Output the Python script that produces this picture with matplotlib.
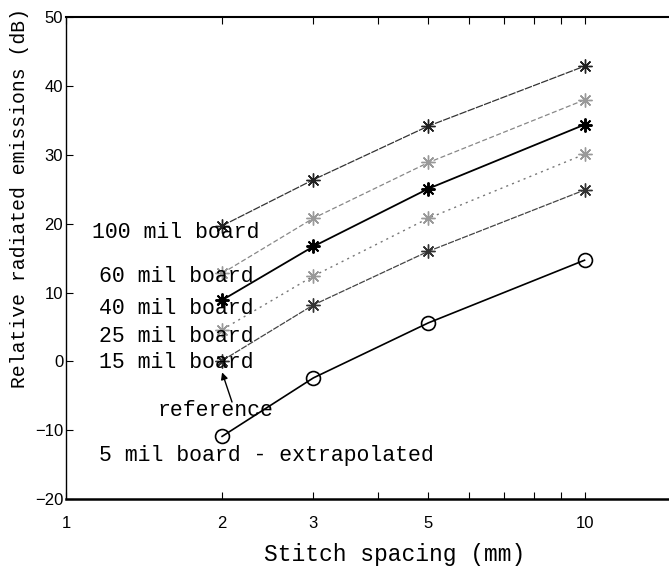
import matplotlib
matplotlib.use("Agg")
import matplotlib.pyplot as plt
from matplotlib.ticker import FixedLocator, NullFormatter, FixedFormatter

# Data
spacing = [2, 3, 5, 10]
mil100 = [19.7, 26.4, 34.2, 42.9]
mil60 = [12.8, 20.8, 28.9, 38.0]
mil40 = [8.9, 16.7, 25.1, 34.4]
mil25 = [4.6, 12.4, 20.8, 30.1]
mil15 = [0.1, 8.2, 16.0, 24.9]
mil5 = [-10.9, -2.4, 5.6, 14.7]

x_ticks = [1, 2, 3, 5, 10]
x_ticklabels = ["1", "2", "3", "5", "10"]
y_ticks = [-20, -10, 0, 10, 20, 30, 40, 50]

W, H = 669, 570
fig = plt.figure(figsize=(W / 100, H / 100), dpi=100)
left = 66 / W
bottom = (H - 499) / H
top = (H - 17.3) / H
ax = fig.add_axes([left, bottom, 674.6 / W, top - bottom])

mono = ["Liberation Mono", "DejaVu Sans Mono"]
tickfont = ["Liberation Sans Narrow", "Liberation Sans", "DejaVu Sans"]
ast = (8, 2, 0)

ax.plot(spacing, mil100, color="#333333", lw=0.9, ls=(0, (6, 1)), marker=ast,
        ms=10, mec="#222222", mew=1.0)
ax.plot(spacing, mil60, color="#888888", lw=0.9, ls=(0, (4, 2)), marker=ast,
        ms=10, mec="#999999", mew=1.0)
ax.plot(spacing, mil40, color="#000000", lw=1.3, ls="-", marker=ast,
        ms=10, mec="#000000", mew=1.4)
ax.plot(spacing, mil25, color="#777777", lw=1.0, ls=(0, (1.5, 3)), marker=ast,
        ms=10, mec="#999999", mew=1.0)
ax.plot(spacing, mil15, color="#444444", lw=0.9, ls=(0, (5, 1)), marker=ast,
        ms=10, mec="#333333", mew=1.0)
ax.plot(spacing, mil5, color="#000000", lw=1.2, ls="-", marker="o",
        ms=10, mfc="none", mec="#000000", mew=1.2)

ax.set_xscale("log")
ax.set_xlim(1, 20)
ax.set_ylim(-20, 50)
ax.xaxis.set_major_locator(FixedLocator(x_ticks))
ax.xaxis.set_major_formatter(FixedFormatter(x_ticklabels))
ax.xaxis.set_minor_locator(FixedLocator([4, 6, 7, 8, 9]))
ax.xaxis.set_minor_formatter(NullFormatter())
ax.set_yticks(y_ticks)
ax.tick_params(axis="both", which="both", direction="in", top=True,
               right=False, labelsize=12, length=5, width=0.8)
ax.tick_params(axis="x", which="major", pad=12)
ax.tick_params(axis="y", which="major", pad=2)
for lab in ax.get_xticklabels() + ax.get_yticklabels():
    lab.set_family(tickfont)

ax.spines["right"].set_visible(False)
ax.spines["bottom"].set_linewidth(1.8)
ax.spines["top"].set_linewidth(1.5)
ax.spines["left"].set_linewidth(1.0)

fs = 15.5
labels = [
    ("100 mil board", 92, 233),
    ("60 mil board", 99, 277),
    ("40 mil board", 99, 308),
    ("25 mil board", 99, 337),
    ("15 mil board", 99, 363),
    ("5 mil board - extrapolated", 99, 455),
]
for txt, px, py in labels:
    fig.text(px / W, 1 - py / H, txt, family=mono, fontsize=fs,
             ha="left", va="center")

fig.text(157 / W, 1 - 411 / H, "reference", family=mono, fontsize=fs,
         ha="left", va="center")
ax.annotate("", xy=(2, 0 - 1.6), xycoords="data",
            xytext=(232 / W, 1 - 402 / H), textcoords="figure fraction",
            arrowprops=dict(arrowstyle="-|>", color="black", lw=1.0,
                            mutation_scale=10, shrinkA=0, shrinkB=0))

fig.text(395 / W, 1 - 555 / H, "Stitch spacing (mm)", family=mono,
         fontsize=16.5, ha="center", va="center")
fig.text(20 / W, 1 - 388 / H, "Relative radiated emissions (dB)",
         family=mono, fontsize=14.2, rotation=90, ha="center", va="bottom")

fig.savefig("out.png", dpi=100)
